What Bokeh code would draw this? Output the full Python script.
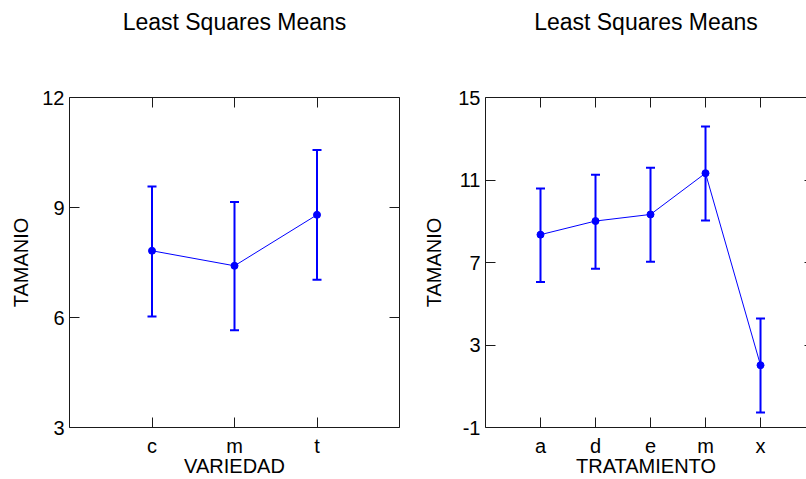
from bokeh.plotting import figure
from bokeh.models import Range1d, FixedTicker, LinearAxis, Whisker, ColumnDataSource, TeeHead
from bokeh.layouts import row
from bokeh.embed import file_html
from bokeh.resources import INLINE

# ---- data ----
title_text = "Least Squares Means"
y_label = "TAMANIO"

var_cats = ["c", "m", "t"]
var_means = [7.82, 7.41, 8.80]
var_lower = [6.03, 5.65, 7.03]
var_upper = [9.57, 9.15, 10.57]
var_yticks = [3, 6, 9, 12]
var_xlabel = "VARIEDAD"

trt_cats = ["a", "d", "e", "m", "x"]
trt_means = [8.35, 9.01, 9.33, 11.33, 2.02]
trt_lower = [6.06, 6.70, 7.04, 9.04, -0.27]
trt_upper = [10.59, 11.25, 11.59, 13.60, 4.28]
trt_yticks = [-1, 3, 7, 11, 15]
trt_xlabel = "TRATAMIENTO"

FONT = "Liberation Sans"
BLUE = "#0000FF"
EDGE = "#1a1a1a"
HEIGHT = 479
TOP = 97
BOTTOM = 51


def make_panel(cats, means, lower, upper, yticks, xlabel, width, border_left,
               border_right, x_end, ylabel_standoff, right_tick_in):
    xs = list(range(1, len(cats) + 1))
    src = ColumnDataSource(dict(x=xs, mean=means, lower=lower, upper=upper))
    p = figure(width=width, height=HEIGHT,
               x_range=Range1d(0, x_end if x_end else len(cats) + 1),
               y_range=Range1d(yticks[0], yticks[-1]),
               output_backend="svg", toolbar_location=None,
               x_axis_location=None, y_axis_location=None,
               min_border_left=border_left, min_border_right=border_right,
               min_border_top=TOP, min_border_bottom=BOTTOM,
               outline_line_color=None, background_fill_color="white",
               border_fill_color="white")
    p.xgrid.visible = False
    p.ygrid.visible = False

    def style_axis(ax):
        ax.axis_line_color = EDGE
        ax.axis_line_width = 1
        ax.major_tick_line_color = EDGE
        ax.major_tick_out = 0
        ax.major_tick_in = 10
        ax.minor_tick_line_color = None
        ax.major_label_text_font = FONT
        ax.major_label_text_font_size = "20px"
        ax.major_label_text_color = "black"
        ax.axis_label_text_font = FONT
        ax.axis_label_text_font_size = "20px"
        ax.axis_label_text_font_style = "normal"
        ax.axis_label_text_color = "black"

    def hide_labels(ax):
        ax.major_label_text_font_size = "1px"
        ax.major_label_text_color = None
        ax.major_label_standoff = 0

    left = LinearAxis(ticker=FixedTicker(ticks=yticks), axis_label=y_label,
                      major_label_overrides={t: str(t) for t in yticks})
    style_axis(left)
    left.major_label_standoff = 5
    left.axis_label_standoff = ylabel_standoff
    p.add_layout(left, "left")

    bottom = LinearAxis(ticker=FixedTicker(ticks=xs), axis_label=xlabel,
                        major_label_overrides={x: c for x, c in zip(xs, cats)})
    style_axis(bottom)
    bottom.major_label_standoff = 7
    bottom.axis_label_standoff = -5
    p.add_layout(bottom, "below")

    # top axis: inward ticks, carries the panel title as its label
    top = LinearAxis(ticker=FixedTicker(ticks=xs), axis_label=title_text)
    style_axis(top)
    hide_labels(top)
    top.axis_label_text_font_size = "23px"
    top.axis_label_standoff = 63
    p.add_layout(top, "above")

    right = LinearAxis(ticker=FixedTicker(ticks=yticks))
    style_axis(right)
    hide_labels(right)
    right.major_tick_in = right_tick_in
    if x_end:
        right.axis_line_color = None
    p.add_layout(right, "right")

    w = Whisker(base="x", upper="upper", lower="lower", source=src,
                line_color=BLUE, line_width=2, level="glyph",
                upper_head=TeeHead(size=9, line_color=BLUE, line_width=2),
                lower_head=TeeHead(size=9, line_color=BLUE, line_width=2))
    p.add_layout(w)
    p.line("x", "mean", source=src, line_color=BLUE, line_width=1)
    p.scatter("x", "mean", source=src, size=7, fill_color=BLUE, line_color=BLUE)
    return p


p1 = make_panel(var_cats, var_means, var_lower, var_upper, var_yticks, var_xlabel,
                width=410, border_left=69, border_right=11, x_end=None,
                ylabel_standoff=7, right_tick_in=10)
p2 = make_panel(trt_cats, trt_means, trt_lower, trt_upper, trt_yticks, trt_xlabel,
                width=396, border_left=75, border_right=0, x_end=5.836,
                ylabel_standoff=10, right_tick_in=2)

layout = row(p1, p2)
open("out.html", "w").write(file_html(layout, INLINE))
